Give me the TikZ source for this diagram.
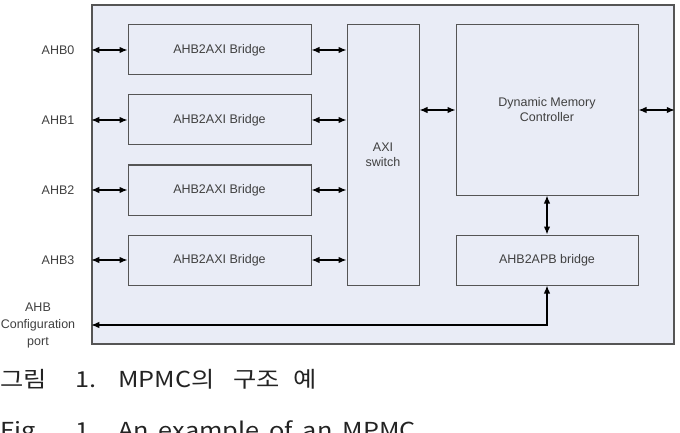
\documentclass[tikz,border=0pt]{standalone}
\usepackage{fontspec}
\setmainfont{Liberation Sans}
\newfontfamily\krfont[FakeStretch=1.15]{Noto Sans CJK KR}
\usetikzlibrary{arrows.meta}
\definecolor{boxfill}{RGB}{233,236,246}
\definecolor{boxline}{RGB}{85,85,85}
\definecolor{captext}{RGB}{35,35,35}

\begin{document}
\begin{tikzpicture}[x=1pt,y=-1pt,
  block/.style={draw=boxline, line width=1pt, fill=boxfill, inner sep=0pt,
    font=\fontsize{12.5}{15}\selectfont, text=black!75, align=center},
  link/.style={line width=1.3pt, {Latex[length=8pt,width=6.5pt]}-{Latex[length=8pt,width=6.5pt]}},
  lbl/.style={font=\fontsize{12.5}{17}\selectfont, text=black!75, align=center},
  captxt/.style={font=\krfont\fontsize{22}{26}\selectfont, text=captext, inner sep=0pt, anchor=base west}]
\useasboundingbox (0,0) rectangle (680,433);
% outer block
\node[draw=boxline, line width=1.5pt, fill=boxfill, minimum width=582pt, minimum height=339pt, inner sep=0pt] (chip) at (383,174.5) {};
% bridges and AHB ports
\foreach \i/\y in {0/50,1/120,2/190,3/260} {
    \node[block, minimum width=183pt, minimum height=50pt] (br\i) at (219.5,\y) {AHB2AXI Bridge};
    \node[lbl] (ahb\i) at (58,\y) {AHB\i};
}
\node[block, minimum width=72pt, minimum height=260pt] (axi) at (383,155) {AXI\\switch};
\node[block, minimum width=182pt, minimum height=170pt] (dmc) at (547,110) {Dynamic Memory\\Controller};
\node[block, minimum width=182pt, minimum height=50pt] (apb) at (547,260) {AHB2APB bridge};
\node[lbl] (cfglbl) at (38,325) {AHB\\Configuration\\port};
% connections
\foreach \i in {0,...,3} {
    \draw[link] (chip.west |- br\i.west) -- (br\i.west);
    \draw[link] (br\i.east) -- (br\i.east -| axi.west);
}
\draw[link] (dmc.west -| axi.east) -- (dmc.west);
\draw[link] (dmc.east) -- (dmc.east -| chip.east);
\draw[link] (dmc.south) -- (apb.north);
\coordinate (cfg) at (chip.west |- cfglbl.center);
\draw[link] (cfg) -| (apb.south);
% caption
\node[captxt] (fig1) at (0,387) {그림};
\node[captxt] (num1) at (75,387) {1.};
\node[captxt] (txt1) at (118,387) {MPMC의\hspace{0.85em}구조\hspace{0.6em}예};
\node[captxt] (fig2) at (0,438) {Fig.};
\node[captxt] (num2) at (75,438) {1.};
\node[captxt] (txt2) at (118,438) {An\hspace{0.45em}example\hspace{0.45em}of\hspace{0.45em}an\hspace{0.45em}MPMC};
\end{tikzpicture}
\end{document}
